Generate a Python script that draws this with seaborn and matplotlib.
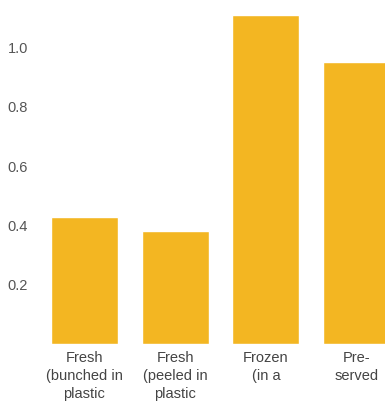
import matplotlib
matplotlib.use("Agg")
import matplotlib.pyplot as plt
import seaborn as sns
import pandas as pd

categories = ["Fresh\n(bunched in\nplastic", "Fresh\n(peeled in\nplastic", "Frozen\n(in a", "Pre-\nserved"]
values = [0.43, 0.38, 1.11, 0.95]
yticks = [0.2, 0.4, 0.6, 0.8, 1.0]
ytick_labels = ["0.2", "0.4", "0.6", "0.8", "1.0"]

sns.set_theme(style="white")
plt.rcParams["font.family"] = ["Liberation Sans", "DejaVu Sans"]

df = pd.DataFrame({"category": categories, "value": values})

W, H = 385, 404
fig = plt.figure(figsize=(W / 100, H / 100), dpi=100)
ax = fig.add_axes([39 / W, 60 / H, (W - 39) / W, 329 / H])

sns.barplot(data=df, x="category", y="value", color="#F3B622", saturation=1,
            width=0.74, ax=ax)

ax.set_xlim(-0.5, 3.313)
ax.set_ylim(0, 1.11)
ax.set_yticks(yticks)
ax.set_yticklabels(ytick_labels)
ax.set_xlabel("")
ax.set_ylabel("")
for s in ax.spines.values():
    s.set_visible(False)
ax.tick_params(axis="y", length=0, pad=8, labelsize=10.5, labelcolor="#555555")
ax.tick_params(axis="x", length=0, pad=5, labelsize=10.5, labelcolor="#444444")
for lbl in ax.get_xticklabels():
    lbl.set_linespacing(1.35)

fig.savefig("out.png", dpi=100, facecolor="white")
